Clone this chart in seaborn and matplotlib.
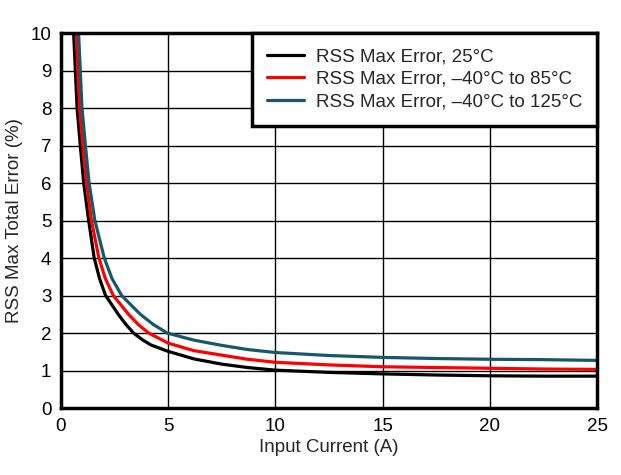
import matplotlib as mpl
mpl.use('Agg')
import matplotlib.pyplot as plt
import seaborn as sns
import pandas as pd

# values
labels = ['RSS Max Error, 25°C',
          'RSS Max Error, \u201340°C to 85°C',
          'RSS Max Error, \u201340°C to 125°C']
colors = ['#000000', '#ff0000', '#175868']

x_25 = [0.59, 0.75, 0.9, 1.06, 1.29, 1.55, 1.8, 2.08, 2.67, 3.0, 3.38, 3.8, 4.2, 5, 6.2, 7.5, 8.7, 10, 12.5, 15, 17.5, 20, 22.5, 25]
y_25 = [10, 8, 7, 6, 5, 4, 3.45, 3, 2.5, 2.25, 2.0, 1.82, 1.68, 1.51, 1.31, 1.17, 1.08, 1.01, 0.95, 0.91, 0.88, 0.86, 0.85, 0.85]

x_85 = [0.71, 0.87, 1.02, 1.19, 1.42, 1.77, 2.07, 2.44, 3.15, 3.6, 4.09, 5, 6.2, 7.5, 8.7, 10, 12.5, 15, 17.5, 20, 22.5, 25]
y_85 = [10, 8, 7, 6, 5, 4, 3.45, 3, 2.5, 2.23, 2.0, 1.73, 1.53, 1.41, 1.30, 1.22, 1.15, 1.10, 1.08, 1.06, 1.04, 1.03]

x_125 = [0.82, 0.98, 1.14, 1.31, 1.58, 2.02, 2.38, 2.83, 3.7, 4.3, 4.95, 6.2, 7.5, 8.7, 10, 12.5, 15, 17.5, 20, 22.5, 25]
y_125 = [10, 8, 7, 6, 5, 4, 3.45, 3, 2.5, 2.23, 2.0, 1.81, 1.67, 1.56, 1.48, 1.40, 1.35, 1.32, 1.30, 1.29, 1.27]

df = pd.concat([
    pd.DataFrame({'current': x_25, 'error': y_25, 'series': labels[0]}),
    pd.DataFrame({'current': x_85, 'error': y_85, 'series': labels[1]}),
    pd.DataFrame({'current': x_125, 'error': y_125, 'series': labels[2]}),
])

sns.set_style('white')
plt.rcParams['font.family'] = ['Liberation Sans', 'DejaVu Sans']

fig = plt.figure(figsize=(6.21, 4.75), dpi=100)
ax = fig.add_axes([0.0982, 0.141, 0.8632, 0.7895])

sns.lineplot(data=df, x='current', y='error', hue='series', palette=colors,
             hue_order=labels, sort=False, estimator=None, linewidth=2.3, ax=ax)

ax.set_xlim(0, 25)
ax.set_ylim(0, 10)
ax.set_xticks(range(0, 26, 5))
ax.set_yticks(range(0, 11))
ax.grid(True, color='black', linewidth=1)
for s in ax.spines.values():
    s.set_linewidth(2.5)
    s.set_color('black')
ax.tick_params(labelsize=13.5, length=0, pad=7, colors='black')
ax.set_xlabel('Input Current (A)', fontsize=13.5, labelpad=3)
ax.set_ylabel('RSS Max Total Error (%)', fontsize=13.5, labelpad=5)

leg = ax.legend(loc='upper right', borderaxespad=0, fancybox=False,
                framealpha=1, edgecolor='black', fontsize=13.5,
                labelspacing=0.3, handlelength=2.0, handletextpad=0.6,
                borderpad=0.8)
leg.get_frame().set_linewidth(2.5)

fig.savefig('out.png', dpi=100)
